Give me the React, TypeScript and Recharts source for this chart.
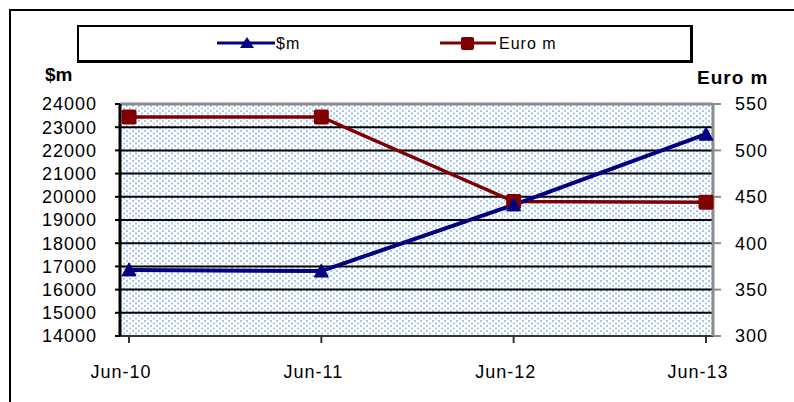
import React from "react";
import {
  LineChart,
  Line,
  XAxis,
  YAxis,
  CartesianGrid,
  ReferenceLine,
} from "recharts";

const categories = ["Jun-10", "Jun-11", "Jun-12", "Jun-13"];
const usdValues = [16850, 16800, 19650, 22700];
const euroValues = [536, 536, 445, 444];
const leftTicks = [
  14000, 15000, 16000, 17000, 18000, 19000, 20000, 21000, 22000, 23000, 24000,
];
const rightTicks = [300, 350, 400, 450, 500, 550];

const data = categories.map((month, i) => ({
  month,
  usd: usdValues[i],
  euro: euroValues[i],
}));

const NAVY = "#000080";
const MAROON = "#800000";
const FONT = "'Liberation Sans', Arial, sans-serif";

function TriangleDot(props: any) {
  const { cx, cy } = props;
  if (cx == null || cy == null) return null;
  return (
    <polygon
      points={`${cx - 7},${cy + 6} ${cx + 7},${cy + 6} ${cx},${cy - 7}`}
      fill={NAVY}
      stroke={NAVY}
      strokeWidth={1}
      strokeLinejoin="round"
    />
  );
}

function SquareDot(props: any) {
  const { cx, cy } = props;
  if (cx == null || cy == null) return null;
  return (
    <rect x={cx - 7.5} y={cy - 7.5} width={15} height={15} rx={2} fill={MAROON} />
  );
}

const tickStyle = { fontSize: 18, fill: "#000", fontFamily: FONT, letterSpacing: 1 };

function LegendBox() {
  return (
    <div
      style={{
        position: "absolute",
        left: 77,
        top: 25,
        width: 611,
        height: 33,
        borderTop: "2px solid #000",
        borderLeft: "2px solid #000",
        borderRight: "3px solid #000",
        borderBottom: "3px solid #000",
        background: "#fff",
      }}
    >
      <svg width={611} height={33} style={{ position: "absolute", left: 0, top: 0 }}>
        <line x1={138} y1={16} x2={196} y2={16} stroke={NAVY} strokeWidth={3} />
        <polygon points="161,21 175,21 168,10" fill={NAVY} />
        <text x={197} y={22} fontSize={16} fontFamily={FONT} letterSpacing={1} fill="#000">
          $m
        </text>
        <line x1={361} y1={16} x2={417} y2={16} stroke={MAROON} strokeWidth={3} />
        <rect x={382} y={10} width={13} height={13} rx={2} fill={MAROON} />
        <text x={420} y={22} fontSize={16} fontFamily={FONT} letterSpacing={1} fill="#000">
          Euro m
        </text>
      </svg>
    </div>
  );
}

export default function App() {
  return (
    <div
      style={{
        position: "absolute",
        left: 0,
        top: 0,
        width: 794,
        height: 402,
        background: "#fff",
        fontFamily: FONT,
        overflow: "hidden",
      }}
    >
      <div
        style={{
          position: "absolute",
          left: 9,
          top: 9,
          width: 800,
          height: 400,
          borderLeft: "2px solid #000",
          borderTop: "2px solid #000",
        }}
      />
      <LineChart
        width={794}
        height={402}
        data={data}
        margin={{ top: 104, right: 0, left: 0, bottom: 26 }}
      >
        <defs>
          <pattern id="dots" width={6} height={5} patternUnits="userSpaceOnUse">
            <rect x={0} y={0} width={6} height={5} fill="#ffffff" />
            <rect x={0} y={0} width={2} height={2} fill="#a3c6f2" />
            <rect x={3} y={2.5} width={2} height={2} fill="#a3c6f2" />
          </pattern>
        </defs>
        <CartesianGrid
          yAxisId="left"
          vertical={false}
          stroke="#000"
          strokeWidth={2}
          fill="url(#dots)"
          fillOpacity={1}
        />
        <XAxis
          dataKey="month"
          height={40}
          padding={{ left: 9, right: 7 }}
          tickSize={7}
          tickMargin={22}
          tick={{ ...tickStyle, dx: -8 }}
          axisLine={{ stroke: "#333", strokeWidth: 2 }}
          tickLine={{ stroke: "#333", strokeWidth: 2 }}
        />
        <YAxis
          yAxisId="left"
          width={120}
          domain={[14000, 24000]}
          ticks={leftTicks}
          interval={0}
          tickSize={5}
          tickMargin={18}
          tick={tickStyle}
          axisLine={{ stroke: "#000", strokeWidth: 3 }}
          tickLine={{ stroke: "#000", strokeWidth: 2 }}
        />
        <YAxis
          yAxisId="right"
          orientation="right"
          width={81}
          domain={[300, 550]}
          ticks={rightTicks}
          interval={0}
          tickSize={8}
          tickMargin={14}
          tick={{ ...tickStyle, textAnchor: "start" }}
          axisLine={{ stroke: "#8c8c8c", strokeWidth: 3 }}
          tickLine={{ stroke: "#8c8c8c", strokeWidth: 2 }}
        />
        <ReferenceLine yAxisId="left" y={24000} stroke="#8c8c8c" strokeWidth={3} />
        <Line
          yAxisId="right"
          dataKey="euro"
          stroke={MAROON}
          strokeWidth={3.5}
          dot={<SquareDot />}
          activeDot={false}
          isAnimationActive={false}
        />
        <Line
          yAxisId="left"
          dataKey="usd"
          stroke={NAVY}
          strokeWidth={4}
          dot={<TriangleDot />}
          activeDot={false}
          isAnimationActive={false}
        />
      </LineChart>
      <LegendBox />
      <div
        style={{
          position: "absolute",
          left: 45,
          top: 64,
          fontSize: 19,
          fontWeight: "bold",
          color: "#000",
        }}
      >
        $m
      </div>
      <div
        style={{
          position: "absolute",
          left: 697,
          top: 67,
          fontSize: 19,
          fontWeight: "bold",
          letterSpacing: 1,
          color: "#000",
        }}
      >
        Euro m
      </div>
    </div>
  );
}
